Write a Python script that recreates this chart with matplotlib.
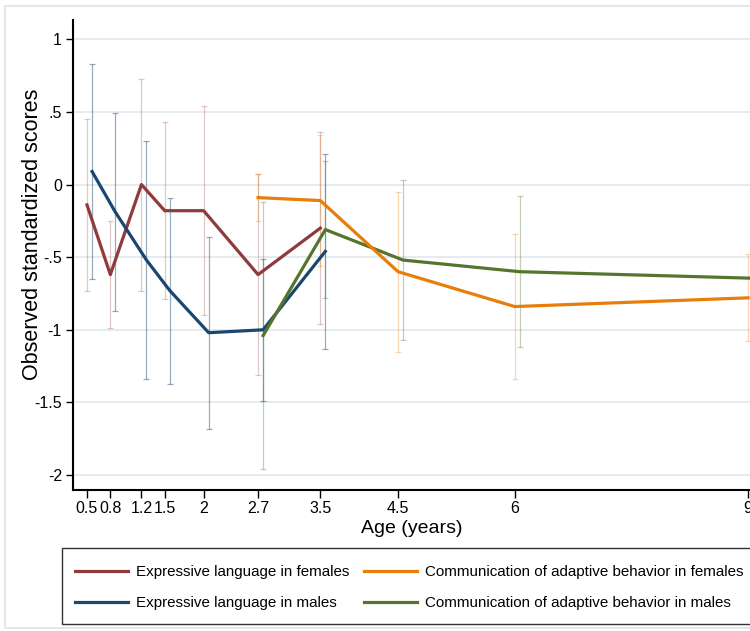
import matplotlib.pyplot as plt
from matplotlib.patches import Rectangle

plt.rcParams['font.family'] = ['Liberation Sans', 'DejaVu Sans']

# ages (years) and observed standardized scores, with CI half widths
ages_lang = [0.5, 0.8, 1.2, 1.5, 2.0, 2.7, 3.5]
lang_f = [-0.14, -0.62, 0.00, -0.18, -0.18, -0.62, -0.30]
lang_f_ci = [0.59, 0.37, 0.73, 0.61, 0.72, 0.69, 0.66]
lang_m = [0.09, -0.19, -0.52, -0.73, -1.02, -1.00, -0.46]
lang_m_ci = [0.74, 0.68, 0.82, 0.64, 0.66, 0.49, 0.67]

ages_comm = [2.7, 3.5, 4.5, 6.0, 9.0]
comm_f = [-0.09, -0.11, -0.60, -0.84, -0.78]
comm_f_ci = [0.16, 0.45, 0.55, 0.50, 0.30]
comm_m = [-1.04, -0.31, -0.52, -0.60, -0.645]
comm_m_ci = [0.92, 0.47, 0.55, 0.52, 0.445]

xticks = [0.5, 0.8, 1.2, 1.5, 2, 2.7, 3.5, 4.5, 6, 9]
xticklabels = ['0.5', '0.8', '1.2', '1.5', '2', '2.7', '3.5', '4.5', '6', '9']
yticks = [1, 0.5, 0, -0.5, -1, -1.5, -2]
yticklabels = ['1', '.5', '0', '-.5', '-1', '-1.5', '-2']

labels = ['Expressive language in females', 'Expressive language in males',
          'Communication of adaptive behavior in females',
          'Communication of adaptive behavior in males']

red = '#8f3a3d'
blue = '#1a476f'
orange = '#e87d0a'
green = '#55752f'
male_shift = 0.065  # males drawn slightly to the right

fig = plt.figure(figsize=(7.5, 6.31), dpi=100)
# outer graph region border and legend box (box runs off the right edge)
fig.patches.append(Rectangle((5 / 750, 0.004), 1, 1 - 9 / 631, transform=fig.transFigure,
                             fill=False, edgecolor='#dde5ea', linewidth=1.2))
fig.patches.append(Rectangle((62 / 750, 1 - 624 / 631), 1, 76 / 631, transform=fig.transFigure,
                             fill=False, edgecolor='#333333', linewidth=1.0))

ax = fig.add_axes([73 / 750, 141 / 631, 1 - 73 / 750, 470 / 631])
ax.set_xlim(0.32, 9.026)
ax.set_ylim(-2.103, 1.133)

for y in yticks:
    ax.axhline(y, color='#e4ecef', lw=1.4, zorder=0)

xm_lang = [a + male_shift for a in ages_lang]
xm_comm = [a + male_shift for a in ages_comm]

# confidence intervals
ax.errorbar(ages_lang, lang_f, yerr=lang_f_ci, fmt='none', ecolor=red, alpha=0.28,
            elinewidth=0.9, capsize=2.5, capthick=0.9, zorder=1)
ax.errorbar(xm_lang, lang_m, yerr=lang_m_ci, fmt='none', ecolor=blue, alpha=0.45,
            elinewidth=0.9, capsize=2.5, capthick=0.9, zorder=1)
ax.errorbar(ages_comm, comm_f, yerr=comm_f_ci, fmt='none', ecolor=orange, alpha=0.3,
            elinewidth=0.9, capsize=2.5, capthick=0.9, zorder=1)
ax.errorbar(xm_comm, comm_m, yerr=comm_m_ci, fmt='none', ecolor=green, alpha=0.35,
            elinewidth=0.9, capsize=2.5, capthick=0.9, zorder=1)

# mean lines
l1, = ax.plot(ages_lang, lang_f, color=red, lw=2.3, zorder=3)
l2, = ax.plot(xm_lang, lang_m, color=blue, lw=2.3, zorder=3)
l4, = ax.plot(xm_comm, comm_m, color=green, lw=2.3, zorder=4)
l3, = ax.plot(ages_comm, comm_f, color=orange, lw=2.3, zorder=5)

ax.set_xticks(xticks)
ax.set_xticklabels(xticklabels)
ax.set_yticks(yticks)
ax.set_yticklabels(yticklabels)
ax.tick_params(axis='y', length=5, width=1, pad=3, labelsize=11.5)
ax.tick_params(axis='x', length=6, width=1, pad=2, labelsize=11.5)

for s in ['top', 'right']:
    ax.spines[s].set_visible(False)
for s in ['left', 'bottom']:
    ax.spines[s].set_linewidth(1.5)

ax.set_xlabel('Age (years)', fontsize=14, labelpad=3)
ax.set_ylabel('Observed standardized scores', fontsize=15.5)
ax.yaxis.set_label_coords(-0.044, 0.543)

fig.legend([l1, l2, l3, l4], labels, ncol=2, loc='upper left',
           bbox_to_anchor=(75 / 750, 1 - 565 / 631), borderaxespad=0,
           fontsize=10.9, frameon=False, borderpad=0,
           handlelength=3.5, handletextpad=0.5, columnspacing=1.0,
           labelspacing=1.15)

fig.savefig('out.png', dpi=100)
